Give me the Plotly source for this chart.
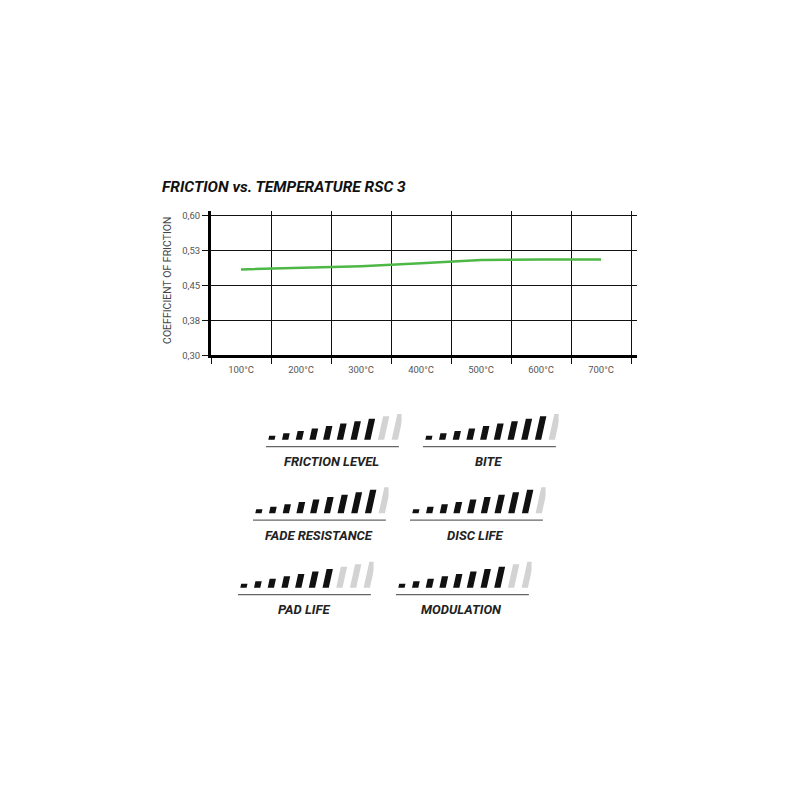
import plotly.graph_objects as go

# friction curve
temperatures = ["100°C", "200°C", "300°C", "400°C", "500°C", "600°C", "700°C"]
friction = [0.485, 0.488, 0.492, 0.498, 0.505, 0.506, 0.506]
y_ticks = [0.30, 0.375, 0.45, 0.525, 0.60]
y_tick_labels = ["0,30", "0,38", "0,45", "0,53", "0,60"]

# rating gauges
gauge_labels = ["FRICTION LEVEL", "BITE", "FADE RESISTANCE", "DISC LIFE", "PAD LIFE", "MODULATION"]
gauge_scores = [8, 9, 9, 9, 7, 8]
gauge_steps = 10

W = H = 800
OFF = 8  # page body margin

fig = go.Figure()

fig.add_trace(go.Scatter(
    x=temperatures, y=friction, mode="lines",
    line=dict(color="#4db846", width=2.5),
    xaxis="x", yaxis="y", showlegend=False, hoverinfo="skip",
))


def px_x(v):
    return (v - OFF) / W


def px_y(v):
    return 1 - (v - OFF) / H


# gauge panel placement (left edge of panel, bar bottom), in pixels
panel_pos = [(264.6, 442), (421.6, 442), (251.6, 516), (408.6, 516), (236.6, 591), (394.6, 591)]
unit_px = 13.7
slant = 0.22

for k, (label, score) in enumerate(zip(gauge_labels, gauge_scores)):
    ax = k + 2
    left, bottom = panel_pos[k]
    on_x, on_y, off_x, off_y = [], [], [], []
    for i in range(gauge_steps):
        h = 4 + 2.45 * i
        s = slant * h / unit_px
        xs = [i - 0.23, i + 0.23, i + 0.23 + s, i - 0.23 + s, i - 0.23, None]
        ys = [0, 0, h, h, 0, None]
        if i < score:
            on_x += xs
            on_y += ys
        else:
            off_x += xs
            off_y += ys
    fig.add_trace(go.Scatter(x=on_x, y=on_y, fill="toself", fillcolor="#111111",
                             mode="lines", line=dict(width=0, color="#111111"),
                             xaxis=f"x{ax}", yaxis=f"y{ax}", showlegend=False, hoverinfo="skip"))
    if off_x:
        fig.add_trace(go.Scatter(x=off_x, y=off_y, fill="toself", fillcolor="#d3d3d3",
                                 mode="lines", line=dict(width=0, color="#d3d3d3"),
                                 xaxis=f"x{ax}", yaxis=f"y{ax}", showlegend=False, hoverinfo="skip"))
    fig.add_trace(go.Scatter(x=[-0.4, 9.3], y=[-7, -7], mode="lines",
                             line=dict(color="#666666", width=1.3),
                             xaxis=f"x{ax}", yaxis=f"y{ax}", showlegend=False, hoverinfo="skip"))
    fig.update_layout(**{
        f"xaxis{ax}": dict(domain=[px_x(left), px_x(left + unit_px * 10)], range=[-0.5, 9.5],
                           visible=False, anchor=f"y{ax}", fixedrange=True),
        f"yaxis{ax}": dict(domain=[px_y(bottom + 9), px_y(bottom - 28)], range=[-9, 28],
                           visible=False, anchor=f"x{ax}", fixedrange=True),
    })
    fig.add_annotation(x=px_x(left + 67), y=px_y(bottom + 22), xref="paper", yref="paper",
                       text=f"<b><i>{label}</i></b>", showarrow=False,
                       xanchor="center", yanchor="middle",
                       font=dict(family="Roboto", size=13, color="#222222"))

fig.update_layout(
    width=W, height=H,
    margin=dict(l=0, r=0, t=0, b=0),
    paper_bgcolor="white", plot_bgcolor="white",
    xaxis=dict(
        domain=[px_x(211), px_x(637)], type="category", range=[-0.5, 6.6],
        tickson="boundaries", showgrid=True, gridcolor="#111111", gridwidth=1,
        showline=True, linecolor="#000000", linewidth=3,
        ticks="outside", ticklen=6, tickcolor="#111111", ticklabelstandoff=3,
        tickfont=dict(family="Roboto", size=9.5, color="#555555"),
        anchor="y", fixedrange=True,
    ),
    yaxis=dict(
        domain=[px_y(357), px_y(211.8)], range=[0.30, 0.61],
        tickvals=y_ticks, ticktext=y_tick_labels,
        showgrid=True, gridcolor="#111111", gridwidth=1, zeroline=False,
        showline=True, linecolor="#000000", linewidth=3,
        ticks="outside", ticklen=6, tickcolor="#111111",
        tickfont=dict(family="Roboto", size=9.5, color="#555555"),
        anchor="x", fixedrange=True,
    ),
)

fig.add_annotation(x=px_x(160), y=px_y(187), xref="paper", yref="paper",
                   xanchor="left", yanchor="middle", showarrow=False,
                   text="<b><i>FRICTION vs. TEMPERATURE RSC 3</i></b>",
                   font=dict(family="Roboto", size=15.5, color="#111111"))
fig.add_annotation(x=px_x(168), y=px_y(282), xref="paper", yref="paper",
                   xanchor="center", yanchor="middle",
                   showarrow=False, textangle=-90,
                   text="COEFFICIENT OF FRICTION",
                   font=dict(family="Roboto", size=10.5, color="#444444"))

fig.write_html("out.html")
